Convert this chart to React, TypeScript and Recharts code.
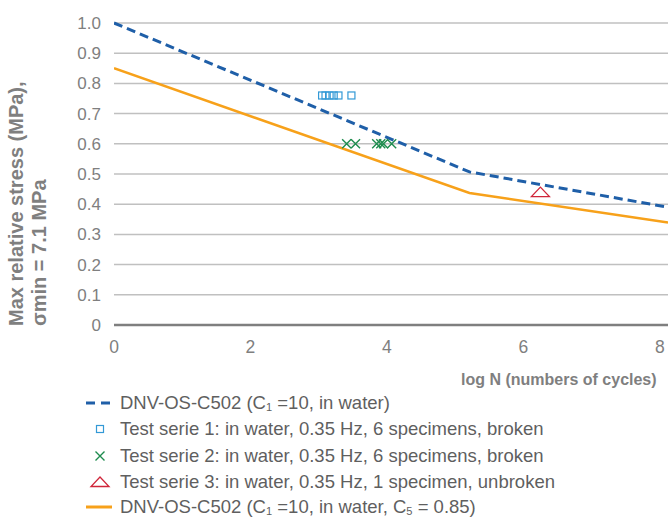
import { ComposedChart, Line, Scatter, XAxis, YAxis, CartesianGrid } from 'recharts';

// S-N curves (x = log N, y = relative stress)
const dnvX = [0, 5.21, 8.12];
const dnvY = [1.0, 0.507, 0.39];
const dnvC5X = [0, 5.21, 8.12];
const dnvC5Y = [0.85, 0.437, 0.339];

// test results
const serie1X = [3.05, 3.1, 3.16, 3.22, 3.29, 3.48];
const serie1Y = [0.76, 0.76, 0.76, 0.76, 0.76, 0.76];
const serie2X = [3.41, 3.54, 3.85, 3.91, 3.95, 4.07];
const serie2Y = [0.6, 0.6, 0.6, 0.6, 0.6, 0.6];
const serie3X = [6.25];
const serie3Y = [0.44];

const xTicks = [0, 2, 4, 6, 8];
const yTicks = [0, 0.1, 0.2, 0.3, 0.4, 0.5, 0.6, 0.7, 0.8, 0.9, 1.0];

const zip = (xs: number[], ys: number[]) => xs.map((x, i) => ({ x, y: ys[i] }));

const BLUE = '#1f5fa8';
const ORANGE = '#f7a11a';
const LIGHTBLUE = '#3399d6';
const GREEN = '#1e8c4e';
const RED = '#d0263a';
const AXIS = '#7f7f7f';
const LEGEND = '#5f5f5f';
const FONT = 'Arial, "Liberation Sans", sans-serif';

const SquareDot = (p: any) => (
  <rect x={p.cx - 3.5} y={p.cy - 3.5} width={7} height={7} fill="none" stroke={LIGHTBLUE} strokeWidth={1.2} />
);
const CrossDot = (p: any) => (
  <path d={`M${p.cx - 4.5},${p.cy - 4.5}L${p.cx + 4.5},${p.cy + 4.5}M${p.cx + 4.5},${p.cy - 4.5}L${p.cx - 4.5},${p.cy + 4.5}`} stroke={GREEN} strokeWidth={1.4} />
);
const TriangleDot = (p: any) => (
  <path d={`M${p.cx},${p.cy - 5}L${p.cx + 9},${p.cy + 4.5}L${p.cx - 9},${p.cy + 4.5}Z`} fill="none" stroke={RED} strokeWidth={1.3} />
);

const legendRows = [
  { top: 403, icon: 'dash' },
  { top: 429, icon: 'square' },
  { top: 456, icon: 'cross' },
  { top: 482, icon: 'triangle' },
  { top: 507, icon: 'line' },
];

function LegendIcon({ icon }: { icon: string }) {
  return (
    <svg width={30} height={20} style={{ position: 'absolute', left: 84, top: -10 }}>
      {icon === 'dash' && <line x1={2} y1={10} x2={28} y2={10} stroke={BLUE} strokeWidth={3} strokeDasharray="9 6" />}
      {icon === 'line' && <line x1={2} y1={10} x2={28} y2={10} stroke={ORANGE} strokeWidth={3} />}
      {icon === 'square' && <SquareDot cx={16} cy={10} />}
      {icon === 'cross' && <CrossDot cx={16} cy={10} />}
      {icon === 'triangle' && <TriangleDot cx={16} cy={10} />}
    </svg>
  );
}

const subStyle = { fontSize: '0.6em', verticalAlign: '-0.2em' };

const legendTexts = [
  <>DNV-OS-C502 (C<span style={subStyle}>1</span> =10, in water)</>,
  <>Test serie 1: in water, 0.35 Hz, 6 specimens, broken</>,
  <>Test serie 2: in water, 0.35 Hz, 6 specimens, broken</>,
  <>Test serie 3: in water, 0.35 Hz, 1 specimen, unbroken</>,
  <>DNV-OS-C502 (C<span style={subStyle}>1</span> =10, in water, C<span style={subStyle}>5</span> = 0.85)</>,
];

export default function App() {
  return (
    <div style={{ position: 'absolute', left: 0, top: 0, width: 668, height: 518, overflow: 'hidden', background: '#fff', fontFamily: FONT }}>
      <ComposedChart width={668} height={360} margin={{ top: 23, right: 0, left: 0, bottom: 0 }}>
        <CartesianGrid vertical={false} stroke="#c0c0c0" strokeWidth={1.5} />
        <XAxis
          type="number"
          dataKey="x"
          domain={[0, 8.12]}
          ticks={xTicks}
          allowDataOverflow
          height={35}
          tickSize={0}
          tickMargin={16}
          axisLine={{ stroke: AXIS, strokeWidth: 2.5 }}
          tick={{ fontSize: 17.5, fill: AXIS, fontFamily: FONT }}
        />
        <YAxis
          type="number"
          dataKey="y"
          domain={[0, 1]}
          ticks={yTicks}
          width={114}
          axisLine={false}
          tickLine={false}
          tickSize={0}
          tickMargin={13}
          tickFormatter={(v: number) => (v === 0 ? '0' : v.toFixed(1))}
          tick={{ fontSize: 17, fill: AXIS, fontFamily: FONT }}
        />
        <Line data={zip(dnvC5X, dnvC5Y)} dataKey="y" type="linear" stroke={ORANGE} strokeWidth={2.5} dot={false} activeDot={false} isAnimationActive={false} />
        <Line data={zip(dnvX, dnvY)} dataKey="y" type="linear" stroke={BLUE} strokeWidth={3} strokeDasharray="9 5" dot={false} activeDot={false} isAnimationActive={false} />
        <Scatter data={zip(serie1X, serie1Y)} dataKey="y" shape={SquareDot} isAnimationActive={false} />
        <Scatter data={zip(serie2X, serie2Y)} dataKey="y" shape={CrossDot} isAnimationActive={false} />
        <Scatter data={zip(serie3X, serie3Y)} dataKey="y" shape={TriangleDot} isAnimationActive={false} />
      </ComposedChart>

      <svg width={668} height={518} style={{ position: 'absolute', left: 0, top: 0, pointerEvents: 'none' }}>
        <g fontFamily={FONT} fontWeight="bold" fill={AXIS}>
          <text transform="translate(23,326) rotate(-90)" fontSize={20}>Max relative stress (MPa),</text>
          <text transform="translate(46,326) rotate(-90)" fontSize={20}>σmin = 7.1 MPa</text>
          <text x={461} y={385} fontSize={16}>log N (numbers of cycles)</text>
        </g>
      </svg>

      {legendRows.map((r, i) => (
        <div key={i} style={{ position: 'absolute', left: 0, top: r.top, width: 668 }}>
          <LegendIcon icon={r.icon} />
          <div style={{ position: 'absolute', left: 120, top: -11, fontSize: 18.5, lineHeight: '22px', color: LEGEND, whiteSpace: 'nowrap' }}>
            {legendTexts[i]}
          </div>
        </div>
      ))}
    </div>
  );
}
